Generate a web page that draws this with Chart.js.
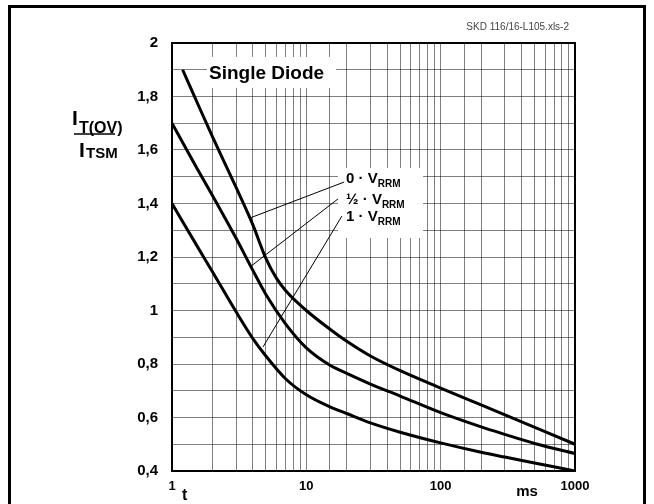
<!DOCTYPE html>
<html>
<head>
<meta charset="utf-8">
<script src="https://cdn.jsdelivr.net/npm/chart.js@4.4.1/dist/chart.umd.min.js"></script>
<style>
  body { margin: 0; background: #fff; }
  #wrap { position: relative; width: 654px; height: 504px; overflow: hidden; }
  #frame { position: absolute; left: 8px; top: 5px; width: 638px; height: 520px;
           border: 3px solid #000; box-sizing: border-box; pointer-events: none; }
</style>
</head>
<body>
<div id="wrap">
  <canvas id="myChart" width="654" height="504"></canvas>
  <div id="frame"></div>
</div>
<script>
// pulse duration t in ms
var t_0v = [1.2, 1.5, 2, 3, 4, 5, 6, 7, 10, 15, 20, 30, 50, 100, 200, 1000];
var t_rest = [1, 1.5, 2, 3, 4, 5, 7, 10, 15, 20, 30, 50, 100, 200, 300, 500, 1000];

// I_T(OV) / I_TSM for each reverse voltage
var ratio_0v = [1.90, 1.79, 1.65, 1.46, 1.32, 1.195, 1.12, 1.075, 1.00, 0.93, 0.885, 0.83, 0.775, 0.71, 0.647, 0.50];
var ratio_half = [1.70, 1.54, 1.43, 1.27, 1.15, 1.06, 0.95, 0.86, 0.795, 0.765, 0.725, 0.68, 0.618, 0.565, 0.537, 0.503, 0.465];
var ratio_full = [1.40, 1.25, 1.145, 0.995, 0.895, 0.83, 0.745, 0.685, 0.64, 0.615, 0.58, 0.545, 0.505, 0.47, 0.452, 0.43, 0.40];

var x_labels = [1, 10, 100, 1000];

function toPoints(xs, ys) {
  return xs.map(function (x, i) { return { x: x, y: ys[i] }; });
}

function curve(xs, ys) {
  return {
    data: toPoints(xs, ys),
    borderColor: '#000',
    borderWidth: 3,
    pointRadius: 0,
    cubicInterpolationMode: 'monotone',
    fill: false
  };
}

var FONT = 'Arial, "Liberation Sans", sans-serif';
var gridColor = 'rgba(0,0,0,0.5)';

// white boxes behind the text labels, in data units
var boxes = [
  { t1: 1.82, t2: 16.6, v1: 1.948, v2: 1.832 },
  { t1: 17.2, t2: 74, v1: 1.533, v2: 1.271 }
];

// leader lines from curve to label
var leaders = [
  { a: [3.81, 1.346], b: [19.1, 1.480] },
  { a: [3.81, 1.163], b: [17.2, 1.417] },
  { a: [4.76, 0.864], b: [18.4, 1.353] }
];

var vLabels = [
  { pre: '0 \u00b7 V', v: 1.4916 },
  { pre: '\u00bd \u00b7 V', v: 1.413 },
  { pre: '1 \u00b7 V', v: 1.3495 }
];

const decor = {
  id: 'decor',
  beforeDatasetsDraw(chart) {
    const ctx = chart.ctx, xs = chart.scales.x, ys = chart.scales.y;
    ctx.save();
    ctx.fillStyle = '#fff';
    boxes.forEach(function (b) {
      var x1 = xs.getPixelForValue(b.t1), x2 = xs.getPixelForValue(b.t2);
      var y1 = ys.getPixelForValue(b.v1), y2 = ys.getPixelForValue(b.v2);
      ctx.fillRect(x1, y1, x2 - x1, y2 - y1);
    });
    ctx.restore();
  },
  afterDatasetsDraw(chart) {
    const ctx = chart.ctx, xs = chart.scales.x, ys = chart.scales.y;
    const a = chart.chartArea;
    ctx.save();
    // plot frame
    ctx.strokeStyle = '#000';
    ctx.lineWidth = 2;
    ctx.strokeRect(a.left, a.top, a.right - a.left, a.bottom - a.top);

    // leaders
    ctx.lineWidth = 1;
    leaders.forEach(function (l) {
      ctx.beginPath();
      ctx.moveTo(xs.getPixelForValue(l.a[0]), ys.getPixelForValue(l.a[1]));
      ctx.lineTo(xs.getPixelForValue(l.b[0]), ys.getPixelForValue(l.b[1]));
      ctx.stroke();
    });

    ctx.fillStyle = '#000';
    ctx.textBaseline = 'middle';
    ctx.textAlign = 'left';

    // Single Diode
    ctx.font = 'bold 19px ' + FONT;
    ctx.fillText('Single Diode', xs.getPixelForValue(1.886), ys.getPixelForValue(1.884));

    // voltage labels
    var lx = xs.getPixelForValue(19.75);
    vLabels.forEach(function (lab) {
      var y = ys.getPixelForValue(lab.v);
      ctx.font = 'bold 15px ' + FONT;
      ctx.fillText(lab.pre, lx, y);
      var w = ctx.measureText(lab.pre).width;
      ctx.font = 'bold 10px ' + FONT;
      ctx.fillText('RRM', lx + w, y + 5);
    });

    // axis unit texts
    ctx.font = 'bold 16px ' + FONT;
    ctx.fillText('t', 182, 496);
    ctx.font = 'bold 15px ' + FONT;
    ctx.textAlign = 'center';
    ctx.fillText('ms', 527, 492);

    // y title as a fraction
    ctx.textAlign = 'left';
    ctx.textBaseline = 'alphabetic';
    ctx.font = 'bold 21px ' + FONT;
    ctx.fillText('I', 72, 125);
    ctx.font = 'bold 16px ' + FONT;
    ctx.fillText('T(OV)', 79, 133);
    ctx.lineWidth = 1.5;
    ctx.beginPath();
    ctx.moveTo(74, 134);
    ctx.lineTo(115, 134);
    ctx.stroke();
    ctx.font = 'bold 21px ' + FONT;
    ctx.fillText('I', 79, 157);
    ctx.font = 'bold 15px ' + FONT;
    ctx.fillText('TSM', 86, 158);

    // file tag
    ctx.font = '10px ' + FONT;
    ctx.fillStyle = '#444';
    ctx.textAlign = 'right';
    ctx.textBaseline = 'middle';
    ctx.fillText('SKD 116/16-L105.xls-2', 569, 27);
    ctx.restore();
  }
};

const bg = {
  id: 'bg',
  beforeDraw(chart) {
    const ctx = chart.ctx;
    ctx.save();
    ctx.fillStyle = '#fff';
    ctx.fillRect(0, 0, chart.width, chart.height);
    ctx.restore();
  }
};

var ctx1 = document.getElementById('myChart');

const config = {
  type: 'line',
  data: {
    datasets: [
      curve(t_0v, ratio_0v),
      curve(t_rest, ratio_half),
      curve(t_rest, ratio_full)
    ]
  },
  options: {
    responsive: false,
    animation: false,
    events: [],
    layout: { padding: { left: 0, right: 79, top: 43, bottom: 0 } },
    plugins: { legend: { display: false }, tooltip: { enabled: false } },
    scales: {
      x: {
        type: 'logarithmic',
        min: 1,
        max: 1000,
        afterFit: function (s) { s.height = 33; },
        grid: { color: gridColor, lineWidth: 1, drawTicks: false },
        border: { display: false },
        ticks: {
          autoSkip: false,
          maxRotation: 0,
          padding: 8,
          color: '#000',
          font: { family: FONT, weight: 'bold', size: 13 },
          callback: function (value) {
            return x_labels.indexOf(Math.round(value)) >= 0 && Math.abs(value - Math.round(value)) < 1e-6 ? String(Math.round(value)) : '';
          }
        }
      },
      y: {
        min: 0.4,
        max: 2,
        afterFit: function (s) { s.width = 172; },
        grid: { color: gridColor, lineWidth: 1, drawTicks: false },
        border: { display: false },
        ticks: {
          stepSize: 0.1,
          padding: 14,
          color: '#000',
          font: { family: FONT, weight: 'bold', size: 15 },
          callback: function (value) {
            var k = Math.round(value * 10);
            if (k % 2 !== 0) return '';
            return String(k / 10).replace('.', ',');
          }
        }
      }
    }
  },
  plugins: [bg, decor]
};

const myChart = new Chart(ctx1, config);
</script>
</body>
</html>
